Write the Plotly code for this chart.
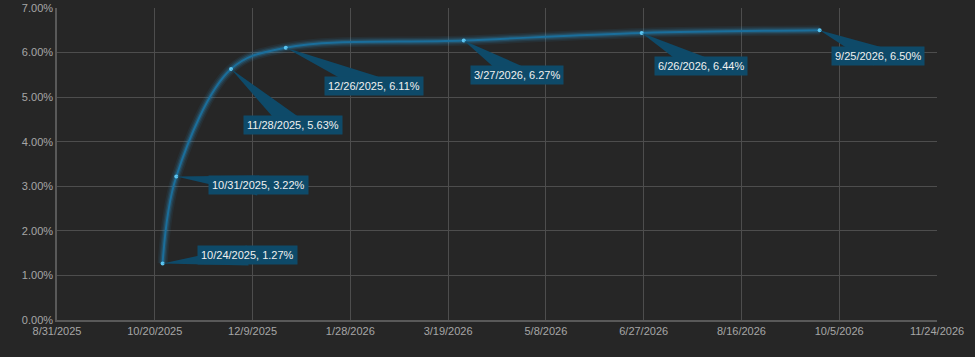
import plotly.graph_objects as go
import math

dates = ["2025-10-24", "2025-10-31", "2025-11-28", "2025-12-26", "2026-03-27", "2026-06-26", "2026-09-25"]
rates = [0.0127, 0.0322, 0.0563, 0.0611, 0.0627, 0.0644, 0.0650]
labels = ["10/24/2025, 1.27%", "10/31/2025, 3.22%", "11/28/2025, 5.63%", "12/26/2025, 6.11%",
          "3/27/2026, 6.27%", "6/26/2026, 6.44%", "9/25/2026, 6.50%"]
# label offsets in pixels (dx right, dy down)
label_dx = [85, 82, 62, 88, 53, 59, 58]
label_dy = [-8, 9, 56, 38, 34, 33, 26]

x_tickvals = ["2025-08-31", "2025-10-20", "2025-12-09", "2026-01-28", "2026-03-19",
              "2026-05-08", "2026-06-27", "2026-08-16", "2026-10-05", "2026-11-24"]
x_ticktext = ["8/31/2025", "10/20/2025", "12/9/2025", "1/28/2026", "3/19/2026",
              "5/8/2026", "6/27/2026", "8/16/2026", "10/5/2026", "11/24/2026"]
y_tickvals = [0, 0.01, 0.02, 0.03, 0.04, 0.05, 0.06, 0.07]

LINE = "#1b6e9b"
BOX = "#0e4a69"
BG = "#262626"

fig = go.Figure()
# glow layers
for w, op in [(10, 0.08), (7, 0.12), (4.5, 0.2)]:
    fig.add_trace(go.Scatter(x=dates, y=rates, mode="lines",
                             line=dict(color="#2a9ad6", width=w, shape="spline", smoothing=1.0),
                             opacity=op, hoverinfo="skip", showlegend=False))
fig.add_trace(go.Scatter(x=dates, y=rates, mode="lines+markers",
                         line=dict(color=LINE, width=2, shape="spline", smoothing=1.0),
                         marker=dict(color="#5cc6f2", size=4),
                         showlegend=False))

shapes = []
annotations = []
for d, r, t, dx, dy in zip(dates, rates, labels, label_dx, label_dy):
    L = math.hypot(dx, dy)
    px, py = -dy / L, -dx / L
    hw = 10
    cx, cy = dx, -dy
    path = f"M 0 0 L {cx + px*hw:.1f} {cy + py*hw:.1f} L {cx - px*hw:.1f} {cy - py*hw:.1f} Z"
    shapes.append(dict(type="path", xref="x", yref="y", xsizemode="pixel", ysizemode="pixel",
                       xanchor=d, yanchor=r, path=path, fillcolor=BOX, line=dict(width=0),
                       layer="above"))
    annotations.append(dict(x=d, y=r, xref="x", yref="y", text=t, showarrow=True,
                            arrowcolor="rgba(0,0,0,0)", ax=dx, ay=dy, axref="pixel", ayref="pixel",
                            bgcolor=BOX, borderpad=3,
                            font=dict(color="#f0f0f0", size=11, family="Liberation Sans, Arial")))

fig.update_layout(
    width=975, height=357,
    margin=dict(l=57, r=38, t=8, b=37, autoexpand=False),
    paper_bgcolor=BG, plot_bgcolor=BG,
    shapes=shapes, annotations=annotations,
    font=dict(family="Liberation Sans, Arial", color="#a6a6a6", size=11),
    xaxis=dict(range=[x_tickvals[0], x_tickvals[-1]], tickvals=x_tickvals, ticktext=x_ticktext,
               showgrid=True, gridcolor="#4d4d4d", gridwidth=1, zeroline=False, automargin=False,
               showline=True, linecolor="#595959", linewidth=1.5, ticks="",
               tickfont=dict(color="#a6a6a6", size=11)),
    yaxis=dict(range=[0, 0.07], tickvals=y_tickvals, tickformat=".2%", automargin=False,
               showgrid=True, gridcolor="#4d4d4d", gridwidth=1, zeroline=False,
               showline=True, linecolor="#595959", linewidth=1.5, ticks="",
               tickfont=dict(color="#a6a6a6", size=11)),
)
fig.write_html("out.html")
